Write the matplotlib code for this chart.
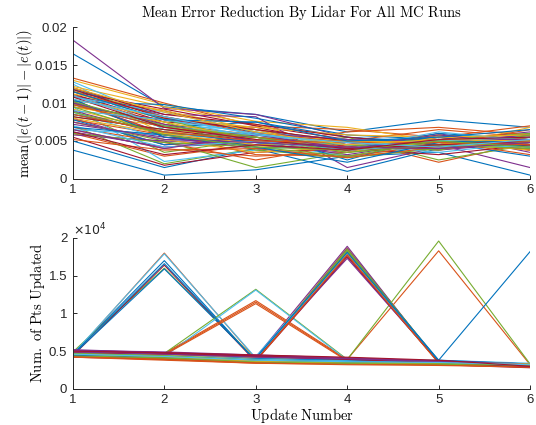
import numpy as np
import matplotlib
matplotlib.use("Agg")
import matplotlib.pyplot as plt

# ---------------- data ----------------
update_number = [1, 2, 3, 4, 5, 6]

# Mean error reduction per MC run (units of 1e-3)
mean_err_milli = [
    [16.5, 9.5, 8.5, 6.2, 7.8, 6.8],
    [13.3, 10.0, 7.0, 6.5, 5.5, 7.0],
    [13.0, 9.8, 7.6, 6.8, 5.0, 6.0],
    [18.3, 9.3, 8.5, 5.5, 4.5, 1.5],
    [12.0, 8.0, 6.5, 5.0, 4.8, 5.5],
    [12.5, 6.5, 6.0, 4.0, 5.5, 5.0],
    [11.5, 9.2, 7.0, 5.2, 4.5, 5.0],
    [3.8, 0.5, 1.2, 3.0, 3.5, 0.5],
    [6.0, 3.0, 4.5, 5.2, 2.2, 4.8],
    [12.2, 9.5, 7.2, 3.8, 4.5, 4.0],
    [11.0, 8.5, 8.2, 1.5, 4.2, 5.0],
    [7.0, 2.0, 4.0, 5.5, 2.5, 4.5],
    [10.0, 7.0, 6.5, 4.5, 5.0, 5.5],
    [10.5, 5.5, 5.0, 4.0, 4.8, 5.8],
    [5.0, 1.5, 4.0, 1.0, 4.0, 6.0],
    [6.5, 4.0, 3.0, 3.5, 5.8, 5.0],
    [11.8, 6.0, 5.5, 3.0, 4.0, 4.5],
    [8.0, 4.5, 5.0, 4.0, 6.0, 3.5],
    [9.0, 3.5, 5.2, 4.2, 4.5, 5.2],
    [9.5, 2.3, 3.8, 4.8, 5.2, 4.0],
    [11.2, 7.5, 6.8, 4.5, 5.5, 4.2],
    [10.2, 9.8, 8.0, 5.8, 5.2, 4.8],
    [11.0, 7.2, 5.8, 5.0, 6.5, 5.5],
    [8.5, 7.0, 4.2, 4.5, 3.8, 5.2],
    [6.2, 4.2, 4.8, 3.2, 5.0, 6.2],
    [7.5, 5.0, 1.5, 3.5, 4.5, 5.0],
    [12.8, 7.8, 5.5, 4.2, 4.8, 4.8],
    [10.8, 9.0, 6.0, 4.8, 4.0, 5.5],
    [9.8, 6.8, 7.5, 5.5, 4.8, 3.0],
    [7.8, 5.8, 4.5, 6.2, 6.8, 5.8],
    [9.2, 6.2, 6.0, 5.0, 4.2, 6.8],
    [10.2, 6.0, 5.5, 4.5, 3.8, 4.8],
    [11.5, 7.8, 5.0, 3.8, 5.5, 4.2],
    [8.8, 5.2, 4.8, 3.0, 4.5, 5.8],
    [5.5, 1.8, 3.5, 4.0, 3.2, 4.5],
    [11.8, 8.2, 6.2, 2.5, 5.8, 4.5],
    [6.8, 4.8, 2.5, 4.5, 5.2, 3.8],
    [10.5, 8.0, 6.8, 5.8, 5.5, 4.8],
    [7.2, 5.5, 4.0, 4.8, 4.0, 5.0],
    [8.2, 6.5, 5.8, 4.8, 5.2, 6.0],
    [10.8, 8.8, 6.2, 5.2, 4.8, 5.5],
    [9.5, 7.8, 6.5, 4.2, 5.0, 3.8],
    [7.8, 4.5, 5.5, 3.8, 6.0, 5.2],
    [10.0, 6.0, 3.2, 3.0, 4.5, 6.5],
    [11.2, 9.0, 6.5, 4.0, 4.8, 4.2],
    [5.8, 5.0, 4.5, 3.5, 5.5, 4.0],
    [9.8, 7.5, 3.8, 2.8, 4.0, 5.5],
    [6.5, 5.8, 5.2, 4.5, 3.5, 4.8],
    [12.0, 8.5, 7.2, 5.5, 4.5, 5.0],
    [8.5, 6.2, 4.8, 4.0, 4.2, 4.5],
    [11.5, 8.2, 6.0, 4.8, 5.0, 3.2],
    [7.5, 5.2, 3.5, 4.2, 5.8, 4.0],
    [9.0, 5.8, 6.0, 5.2, 4.8, 5.8],
    [6.0, 4.8, 4.2, 3.0, 5.0, 4.8],
    [11.0, 7.0, 5.8, 4.0, 6.2, 5.0],
    [8.2, 6.5, 5.0, 3.8, 4.2, 5.2],
    [10.5, 5.5, 4.5, 5.0, 5.2, 4.2],
    [5.2, 3.8, 4.0, 2.8, 4.2, 5.5],
    [9.5, 7.5, 5.2, 3.5, 5.5, 5.8],
    [10.0, 7.2, 5.0, 4.2, 5.8, 4.5],
    [8.8, 6.0, 5.5, 4.5, 3.8, 5.8],
    [7.0, 4.2, 5.0, 3.8, 4.5, 4.2],
    [11.8, 8.0, 6.5, 5.0, 4.8, 4.5],
    [6.8, 5.8, 4.2, 2.2, 4.8, 5.0],
    [9.8, 6.8, 5.5, 4.2, 4.0, 4.8],
    [8.0, 6.0, 4.5, 5.0, 4.8, 3.8],
    [6.5, 4.0, 5.8, 4.0, 5.2, 5.2],
    [10.2, 7.0, 5.5, 3.5, 4.5, 4.0],
    [9.0, 7.8, 6.0, 4.5, 5.0, 5.5],
    [10.8, 6.8, 5.2, 4.0, 4.5, 5.0],
    [11.5, 7.8, 7.5, 5.0, 5.5, 6.5],
    [8.5, 6.2, 5.0, 4.8, 4.8, 4.5],
    [12.0, 8.8, 6.2, 4.5, 5.2, 5.0],
    [7.5, 5.2, 4.8, 4.2, 4.0, 4.8],
    [9.5, 5.8, 4.2, 3.8, 5.0, 4.2],
    [10.5, 8.2, 5.8, 4.8, 4.2, 5.2],
    [6.2, 3.2, 4.5, 3.8, 5.2, 5.5],
]

# Number of points updated per MC run
pts_updated = [
    [4700, 17000, 3700, 3600, 3400, 3100],
    [4500, 18000, 4000, 3700, 3500, 3200],
    [4600, 4400, 3900, 18700, 3600, 3200],
    [4500, 4300, 4200, 18900, 3500, 3300],
    [4900, 16000, 3900, 3700, 3400, 3200],
    [4600, 17900, 4100, 3800, 3500, 3100],
    [4400, 16400, 3600, 3500, 3300, 3000],
    [4500, 15900, 3800, 3600, 3400, 3100],
    [4500, 4700, 11700, 3900, 18300, 3200],
    [4700, 4500, 4000, 18400, 3700, 3300],
    [4400, 4200, 3800, 18600, 3500, 3000],
    [4800, 4700, 13200, 3900, 19600, 3300],
    [4700, 4300, 13100, 3800, 3600, 3200],
    [4500, 4300, 3700, 17500, 3500, 3000],
    [4600, 16600, 3700, 3500, 3300, 3000],
    [4400, 4600, 11500, 3800, 3500, 3100],
    [4300, 4100, 3600, 3500, 3300, 3100],
    [4600, 4400, 4100, 17300, 3600, 3200],
    [4800, 4500, 3900, 18500, 3700, 3300],
    [4500, 4400, 4300, 18000, 3800, 3400],
    [4200, 3900, 3500, 3400, 3200, 2800],
    [4700, 4600, 4000, 18200, 3800, 3300],
    [4400, 4500, 11300, 3700, 3400, 3100],
    [4500, 4300, 3800, 18100, 3600, 3200],
    [5000, 4700, 4200, 3900, 3700, 3300],
    [4600, 4400, 3900, 18300, 3500, 3100],
    [4400, 4200, 4000, 17900, 3600, 3200],
    [4500, 4300, 3800, 17700, 3500, 3000],
    [4800, 4500, 4100, 18100, 3700, 3200],
    [4300, 4100, 3700, 17800, 3400, 3100],
    [4800, 4600, 4100, 3800, 3600, 3300],
    [4900, 4700, 4300, 4000, 3700, 3200],
    [4600, 4400, 3800, 3600, 3400, 3200],
    [4500, 4300, 3900, 3700, 3500, 3200],
    [5100, 4800, 4400, 4000, 3600, 3000],
    [4300, 4100, 3900, 3700, 3800, 18200],
    [4400, 4000, 3500, 3300, 3200, 2900],
    [4700, 4400, 3800, 3500, 3400, 3300],
    [5200, 4800, 4300, 3900, 3600, 3100],
    [4500, 4200, 3700, 3500, 3300, 3100],
    [4800, 4500, 4000, 3800, 3600, 3300],
    [5000, 4700, 4400, 4100, 3700, 3100],
    [4600, 4400, 4000, 3800, 3600, 3300],
    [4300, 3900, 3400, 3300, 3200, 2900],
    [4900, 4500, 3900, 3600, 3500, 3300],
    [5100, 4900, 4500, 4100, 3700, 3200],
    [4400, 4100, 3600, 3400, 3300, 3000],
    [4700, 4400, 3900, 3700, 3500, 3200],
    [4800, 4600, 4300, 3900, 3500, 2900],
    [4500, 4300, 3800, 3600, 3500, 3100],
    [4200, 3800, 3400, 3200, 3100, 2900],
    [4600, 4300, 3700, 3500, 3400, 3200],
    [4900, 4600, 4200, 4000, 3600, 3000],
    [4700, 4400, 3800, 3500, 3400, 3100],
    [4600, 4300, 3800, 3600, 3500, 3200],
    [5000, 4800, 4500, 4200, 3800, 3000],
]

top_yticks = [0, 0.005, 0.01, 0.015, 0.02]
top_yticklabels = ["0", "0.005", "0.01", "0.015", "0.02"]
bot_yticks = [0, 5000, 10000, 15000, 20000]
bot_yticklabels = ["0", "0.5", "1", "1.5", "2"]

matlab_colors = ["#0072BD", "#D95319", "#EDB120", "#7E2F8E",
                 "#77AC30", "#4DBEEE", "#A2142F"]

# ---------------- style ----------------
plt.rcParams["font.family"] = ["Liberation Sans", "DejaVu Sans"]
plt.rcParams["mathtext.fontset"] = "cm"
axis_color = "#262626"
label_size = 10.5

fig = plt.figure(figsize=(5.36, 4.25), dpi=100)
ax1 = fig.add_axes([0.136, 0.579, 0.853, 0.357])
ax2 = fig.add_axes([0.136, 0.085, 0.853, 0.355])

for ax in (ax1, ax2):
    ax.set_prop_cycle(color=matlab_colors)
    for s in ("top", "right"):
        ax.spines[s].set_visible(False)
    for s in ("left", "bottom"):
        ax.spines[s].set_color(axis_color)
        ax.spines[s].set_linewidth(0.7)
    ax.tick_params(direction="in", length=3, width=0.7, colors=axis_color,
                   labelsize=9.5, pad=4)
    ax.set_xlim(1, 6)
    ax.set_xticks(update_number)

mean_err = np.array(mean_err_milli) * 1e-3
for row in mean_err:
    ax1.plot(update_number, row, lw=0.8)
ax1.set_ylim(0, 0.02)
ax1.set_yticks(top_yticks)
ax1.set_yticklabels(top_yticklabels)
ax1.set_title(r"$\mathrm{Mean\ Error\ Reduction\ By\ Lidar\ For\ All\ MC\ Runs}$",
              fontsize=label_size, pad=7, color="black")
ax1.set_ylabel(r"$\mathrm{mean}(|e(t-1)|-|e(t)|)$", fontsize=label_size)
ax1.yaxis.set_label_coords(-0.083, 0.5)

for row in pts_updated:
    ax2.plot(update_number, row, lw=0.8)
ax2.set_ylim(0, 20000)
ax2.set_yticks(bot_yticks)
ax2.set_yticklabels(bot_yticklabels)
ax2.set_ylabel(r"$\mathrm{Num.\ of\ Pts\ Updated}$", fontsize=label_size)
ax2.yaxis.set_label_coords(-0.056, 0.5)
ax2.set_xlabel(r"$\mathrm{Update\ Number}$", fontsize=label_size, labelpad=0)
ax2.text(0.0, 1.0, r"$\times 10^{4}$", transform=ax2.transAxes,
         fontsize=9, color=axis_color, ha="left", va="bottom",
         math_fontfamily="dejavusans")

fig.savefig("out.png", dpi=100)
